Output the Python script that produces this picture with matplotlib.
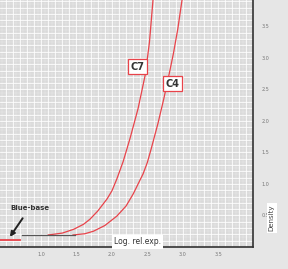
"""Characteristic curves C7 / C4 (density vs log relative exposure)."""

import matplotlib
matplotlib.use("Agg")
import matplotlib.pyplot as plt
import numpy as np

# curve points (log rel. exposure, density)
c7_x = [1.10, 1.30, 1.46, 1.60, 1.69, 1.80, 1.93, 2.00, 2.07, 2.16, 2.26, 2.37, 2.47, 2.53, 2.58]
c7_y = [0.19, 0.22, 0.28, 0.36, 0.44, 0.57, 0.76, 0.89, 1.08, 1.36, 1.74, 2.20, 2.73, 3.25, 3.92]
c4_x = [1.45, 1.62, 1.74, 1.90, 2.07, 2.20, 2.30, 2.44, 2.50, 2.56, 2.65, 2.73, 2.80, 2.87, 2.93, 2.99]
c4_y = [0.19, 0.21, 0.25, 0.34, 0.49, 0.65, 0.84, 1.16, 1.34, 1.58, 1.96, 2.34, 2.70, 3.08, 3.46, 3.92]

base_red_x = [0.42, 0.70]
base_red_y = [0.11, 0.11]
base_gray_x = [0.73, 1.48]
base_gray_y = [0.19, 0.19]

x_ticks = [1.0, 1.5, 2.0, 2.5, 3.0, 3.5]
y_ticks = [0.5, 1.0, 1.5, 2.0, 2.5, 3.0, 3.5]

RED = "#e8434a"

fig = plt.figure(figsize=(2.88, 2.69), dpi=100)
fig.patch.set_facecolor("#e6e6e6")
ax = fig.add_axes([0.0, 0.082, 0.878, 0.918])
ax.set_facecolor("#dadada")

ax.set_xlim(0.42, 3.99)
ax.set_ylim(0, 3.92)

# fine white graph-paper grid
for v in np.arange(0.45, 3.99, 0.05):
    ax.axvline(v, color="white", lw=0.3, alpha=0.5, zorder=0)
for v in np.arange(0.05, 3.92, 0.05):
    ax.axhline(v, color="white", lw=0.3, alpha=0.5, zorder=0)
for v in np.arange(0.5, 3.99, 0.1):
    ax.axvline(v, color="white", lw=0.6, alpha=0.9, zorder=0)
for v in np.arange(0.1, 3.92, 0.1):
    ax.axhline(v, color="white", lw=0.6, alpha=0.9, zorder=0)

ax.plot(c7_x, c7_y, color=RED, lw=0.9, zorder=3)
ax.plot(c4_x, c4_y, color=RED, lw=0.9, zorder=3)
ax.plot(base_red_x, base_red_y, color=RED, lw=1.3, zorder=3)
ax.plot(base_gray_x, base_gray_y, color="#555555", lw=0.9, zorder=3)

box = dict(boxstyle="square,pad=0.25", fc="white", ec=RED, lw=0.9)
ax.text(2.36, 2.86, "C7", fontsize=7, fontweight="bold", color="#333333",
        ha="center", va="center", bbox=box, zorder=4)
ax.text(2.86, 2.59, "C4", fontsize=7, fontweight="bold", color="#333333",
        ha="center", va="center", bbox=box, zorder=4)

ax.annotate("Blue-base", xy=(0.56, 0.16), xytext=(0.84, 0.62),
            fontsize=5, fontweight="bold", color="#333333", ha="center", va="center",
            arrowprops=dict(arrowstyle="-|>", color="#222222", lw=1.4,
                            mutation_scale=7, shrinkA=4, shrinkB=0),
            zorder=4)

ax.text(2.36, 0.08, "Log. rel.exp.", fontsize=5.5, color="#333333",
        ha="center", va="center", zorder=4,
        bbox=dict(boxstyle="square,pad=0.3", fc="white", ec="none"))

for side in ("top", "left"):
    ax.spines[side].set_visible(False)
for side in ("right", "bottom"):
    ax.spines[side].set_color("#333333")
    ax.spines[side].set_linewidth(1.2)

ax.yaxis.tick_right()
ax.set_xticks(x_ticks)
ax.set_yticks(y_ticks)
ax.set_xticklabels([f"{t:.1f}" for t in x_ticks])
ax.set_yticklabels([f"{t:.1f}" for t in y_ticks])
ax.tick_params(length=0, labelsize=3.5, labelcolor="#777777", pad=4)
ax.tick_params(axis="y", pad=6)

fig.text(0.944, 0.19, "Density", rotation=90, fontsize=5, color="#444444",
         ha="center", va="center",
         bbox=dict(boxstyle="square,pad=0.3", fc="white", ec="none"))

fig.savefig("out.png", dpi=100, facecolor=fig.get_facecolor())
